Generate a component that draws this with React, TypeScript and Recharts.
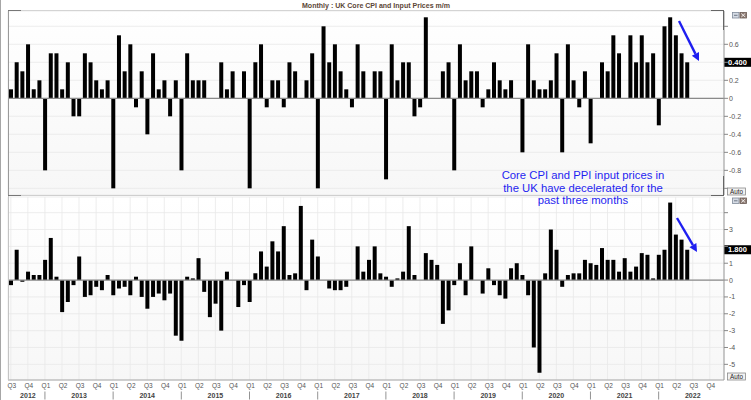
import React from 'react';
import { BarChart, Bar, XAxis, YAxis, CartesianGrid, ReferenceLine } from 'recharts';

// Monthly axis runs Jul 2012 .. Dec 2022 (data ends Jun 2022)
const startYear = 2012;
const startMonth = 6; // July, 0-based
const monthCount = 126;

// UK core CPI m/m (%)
const coreCpi = [
  0.1, 0.4, 0.3, 0.6, 0.1, 0.2,
  -0.8, 0.5, 0.5, 0.1, 0.4, -0.2, -0.2, 0.5, 0.4, 0.2, 0.1, 0.2,
  -1.0, 0.7, 0.3, 0.6, -0.1, 0.3, -0.4, 0.5, 0.1, 0.2, -0.2, 0.2,
  -0.8, 0.5, 0.2, 0.2, 0.2, 0, 0, 0.4, 0.1, 0.3, 0, 0.3,
  -1.0, 0.4, 0.6, -0.1, 0.2, 0.2, -0.1, 0.4, 0.3, 0, 0.2, 0.5,
  -1.0, 0.8, 0.4, 0.6, 0.3, 0.1, -0.1, 0.6, 0.3, 0, 0.3, 0.3,
  -0.9, 0.6, 0.2, 0.4, 0.4, -0.2, -0.1, 0.9, 0, 0, 0.3, 0.4,
  -0.8, 0.6, 0.2, 0.3, 0.3, -0.1, 0.1, 0.4, 0.2, 0.1, 0.2, 0,
  -0.6, 0.6, 0.2, 0.1, 0.1, 0.2, 0.5, -0.6, 0.6, 0.2, -0.1, 0.3,
  -0.5, 0, 0.4, 0.3, 0.7, 0.5, 0, 0.7, 0.4, 0.7, 0.4, 0.5,
  -0.3, 0.8, 0.9, 0.7, 0.5, 0.4,
];

// UK PPI input prices m/m (%)
const inputPpi = [
  -0.3, 1.8, -0.1, 0.5, 0.3, 0.3,
  1.2, 2.5, 0.2, -1.9, -1.3, -0.3, 1.4, -1.0, -0.9, -0.4, -0.6, 0.3,
  -0.9, -0.5, -0.4, -0.9, 0.2, -1.0, -1.7, -1.0, -0.8, -1.2, -0.8, -3.3,
  -3.6, 0.2, 0.1, 1.3, -0.7, -2.2, -1.4, -3.0, 0.5, 0, -1.6, -0.3,
  -1.3, 0.4, 1.7, 0.8, 2.3, 1.7, 3.2, 0.3, 0.4, 4.4, -0.6, 2.4,
  1.4, 0, -0.5, -0.6, -0.6, -0.4, 0, 2.0, 0.5, 1.2, 2.0, 0.4,
  0.2, -0.4, 0.1, 0.5, 3.2, 0.3, 0, 1.6, 1.2, 0.9, -2.6, -1.8,
  -0.3, 1.0, -0.9, 2.0, 0, -0.8, 0.7, -0.3, -0.9, -1.1, 0.7, 1.0,
  0.3, -0.9, -4.0, -5.5, 0.4, 3.0, 1.8, -0.4, 0.3, 0.4, 0.4, 1.2,
  1.0, 0.9, 1.9, 1.2, 1.2, 0.5, 1.3, 0.5, 0.8, 1.6, 1.5, 0.1,
  1.5, 1.8, 4.6, 2.7, 2.4, 1.8,
];

const quarterNames = ['Q1', 'Q2', 'Q3', 'Q4'];
const yearNames = ['2012', '2013', '2014', '2015', '2016', '2017', '2018', '2019', '2020', '2021', '2022'];
const cpiTicks = [-1, -0.8, -0.6, -0.4, -0.2, 0, 0.2, 0.4, 0.6, 0.8];
const cpiHiddenLabels = [-1, 0.8, 0.4]; // 0.4 sits under the last-value tag
const ppiTicks = [-5, -4, -3, -2, -1, 0, 1, 2, 3, 4];
const ppiHiddenLabels = [4, 2]; // 2 sits under the last-value tag

const noteLines = [
  'Core CPI and PPI input prices in',
  'the UK have decelerated for the',
  'past three months',
];

const rows = Array.from({ length: monthCount }, (_, i) => ({
  x: i + 0.5,
  cpi: i < coreCpi.length ? coreCpi[i] : null,
  ppi: i < inputPpi.length ? inputPpi[i] : null,
}));

// quarter ticks sit on the first month of each quarter
const quarterTicks = rows.filter((_, i) => (startMonth + i) % 3 === 0).map((r) => r.x);

// year label goes on the quarter tick nearest the middle of the visible part of the year
const yearTickIndex: Record<number, string> = {};
yearNames.forEach((name, k) => {
  const s = Math.max(0, k * 12 - startMonth);
  const e = Math.min(monthCount, (k + 1) * 12 - startMonth);
  const mid = Math.round((s + e) / 2 / 3) * 3;
  yearTickIndex[mid] = name;
});

const W = 751;
const AXIS_W = 27;
const FONT = '"Liberation Sans", Arial, sans-serif';

const QuarterTick = (props: any) => {
  const { x, y, payload } = props;
  const i = Math.round(payload.value - 0.5);
  if (i >= monthCount) return <g />;
  const m = (startMonth + i) % 12;
  const yr = yearTickIndex[i];
  return (
    <g>
      <text x={x + 1} y={y + 8} textAnchor="middle" fontSize={6.5} fill="#555" fontFamily={FONT}>
        {quarterNames[m / 3]}
      </text>
      {m === 0 && <line x1={x} x2={x} y1={y + 11.5} y2={y + 19.5} stroke="#777" strokeWidth={0.8} />}
      {yr && (
        <text x={x} y={y + 18} textAnchor="middle" fontSize={7} fontWeight="bold" fill="#444" fontFamily={FONT}>
          {yr}
        </text>
      )}
    </g>
  );
};

const makeYTick = (hidden: number[], fmt: (v: number) => string) => (props: any) => {
  const { x, y, payload } = props;
  if (hidden.includes(payload.value)) return <g />;
  return (
    <text x={x} y={y + 2.5} fontSize={7} fill="#555" textAnchor="start" fontFamily={FONT}>
      {fmt(payload.value)}
    </text>
  );
};

const ValueTag = (props: any) => {
  const { viewBox, text } = props;
  if (!viewBox) return null;
  const x = viewBox.x + viewBox.width;
  const y = viewBox.y;
  return (
    <g>
      <rect x={x} y={y - 4.5} width={AXIS_W} height={9} fill="#000" />
      <text x={x + 13.5} y={y + 2.6} textAnchor="middle" fill="#fff" fontSize={7.5} fontWeight="bold" fontFamily={FONT}>
        {text}
      </text>
    </g>
  );
};

const Arrow = ({ x1, y1, x2, y2 }: { x1: number; y1: number; y2: number; x2: number }) => {
  const a = Math.atan2(y2 - y1, x2 - x1);
  const L = 8;
  const H = 4;
  const bx = x2 - L * Math.cos(a);
  const by = y2 - L * Math.sin(a);
  const px = -Math.sin(a) * H;
  const py = Math.cos(a) * H;
  return (
    <g>
      <line x1={x1} y1={y1} x2={bx} y2={by} stroke="#1f1ff0" strokeWidth={2.4} />
      <polygon points={`${x2},${y2} ${bx + px},${by + py} ${bx - px},${by - py}`} fill="#1f1ff0" />
    </g>
  );
};

const PanelIcons = ({ y }: { y: number }) => (
  <g>
    <rect x={732.5} y={y} width={6.5} height={5.5} fill="#d5dbe4" stroke="#7f8a9a" strokeWidth={0.8} />
    <line x1={734} x2={737.5} y1={y + 2.8} y2={y + 2.8} stroke="#56606e" strokeWidth={0.8} />
    <rect x={740} y={y} width={6.5} height={5.5} fill="#8e7c74" stroke="#6a5a54" strokeWidth={0.8} />
    <line x1={741.3} x2={745.2} y1={y + 1} y2={y + 4.5} stroke="#fff" strokeWidth={0.8} />
    <line x1={741.3} x2={745.2} y1={y + 4.5} y2={y + 1} stroke="#fff" strokeWidth={0.8} />
  </g>
);

const AutoBox = ({ y }: { y: number }) => (
  <g>
    <rect x={727.5} y={y} width={18} height={7} fill="#f2f2f2" stroke="#8a8a8a" strokeWidth={0.8} />
    <text x={736.5} y={y + 5.6} textAnchor="middle" fontSize={6.3} fill="#222" fontFamily={FONT}>
      Auto
    </text>
  </g>
);

const App = () => {
  const cpiLast = coreCpi[coreCpi.length - 1];
  const ppiLast = inputPpi[inputPpi.length - 1];

  return (
    <div style={{ position: 'absolute', left: 0, top: 0, width: W, height: 400, background: '#fff', overflow: 'hidden', fontFamily: FONT }}>
      {/* plot backgrounds */}
      <div style={{ position: 'absolute', left: 8, top: 11, width: 716, height: 184, background: 'linear-gradient(#ffffff, #f7f7f7)' }} />
      <div style={{ position: 'absolute', left: 8, top: 197, width: 716, height: 183, background: 'linear-gradient(#ffffff, #f7f7f7)' }} />

      <div style={{ position: 'absolute', left: 0, top: 0 }}>
        <BarChart width={W} height={196} data={rows} margin={{ top: 11, right: 0, bottom: 1, left: 8 }}>
          <CartesianGrid stroke="#e9e9e9" strokeWidth={0.8} />
          <XAxis
            type="number"
            dataKey="x"
            domain={[0, monthCount]}
            ticks={quarterTicks}
            interval={0}
            allowDataOverflow
            height={0}
            tick={false}
            axisLine={false}
            tickLine={false}
          />
          <YAxis
            orientation="right"
            width={AXIS_W}
            type="number"
            domain={[-1.074, 0.97]}
            ticks={cpiTicks}
            interval={0}
            allowDataOverflow
            axisLine={{ stroke: '#9a9a9a' }}
            tickLine={{ stroke: '#888' }}
            tickSize={4}
            tickMargin={1}
            tick={makeYTick(cpiHiddenLabels, (v) => (v === 0 ? '0' : v.toFixed(1)))}
          />
          <ReferenceLine y={0} stroke="#8a8a8a" strokeWidth={1.2} />
          <Bar dataKey="cpi" fill="#000" barSize={4} isAnimationActive={false} />
          <ReferenceLine y={cpiLast} stroke="none" label={<ValueTag text={cpiLast.toFixed(3)} />} />
        </BarChart>
      </div>

      <div style={{ position: 'absolute', left: 0, top: 196 }}>
        <BarChart width={W} height={204} data={rows} margin={{ top: 1, right: 0, bottom: 0, left: 8 }}>
          <CartesianGrid stroke="#e9e9e9" strokeWidth={0.8} />
          <XAxis
            type="number"
            dataKey="x"
            domain={[0, monthCount]}
            ticks={quarterTicks}
            interval={0}
            allowDataOverflow
            height={20}
            tickSize={0}
            tickMargin={0}
            tickLine={false}
            axisLine={{ stroke: '#a8a8a8' }}
            tick={(p: any) => <QuarterTick {...p} />}
          />
          <YAxis
            orientation="right"
            width={AXIS_W}
            type="number"
            domain={[-5.93, 4.93]}
            ticks={ppiTicks}
            interval={0}
            allowDataOverflow
            axisLine={{ stroke: '#9a9a9a' }}
            tickLine={{ stroke: '#888' }}
            tickSize={4}
            tickMargin={1}
            tick={makeYTick(ppiHiddenLabels, (v) => String(v))}
          />
          <ReferenceLine y={0} stroke="#8a8a8a" strokeWidth={1.2} />
          <Bar dataKey="ppi" fill="#000" barSize={4} isAnimationActive={false} />
          <ReferenceLine y={ppiLast} stroke="none" label={<ValueTag text={ppiLast.toFixed(3)} />} />
        </BarChart>
      </div>

      {/* frame, title, annotations */}
      <svg width={W} height={400} style={{ position: 'absolute', left: 0, top: 0, pointerEvents: 'none' }}>
        <line x1={0.5} x2={0.5} y1={0} y2={400} stroke="#a6a6a6" />
        <text x={376} y={7.5} textAnchor="middle" fontSize={7.5} fontWeight="bold" fill="#5b4636" fontFamily={FONT} textLength={148} lengthAdjust="spacingAndGlyphs">
          Monthly : UK Core CPI and Input Prices m/m
        </text>

        {/* top panel outline */}
        <line x1={8} x2={724} y1={10.5} y2={10.5} stroke="#d4d4d4" />
        <line x1={8} x2={724} y1={195.5} y2={195.5} stroke="#cfcfcf" />
        <line x1={8.5} x2={8.5} y1={10.5} y2={195.5} stroke="#9a9a9a" />
        <line x1={8} x2={21} y1={10.5} y2={10.5} stroke="#777" />
        <line x1={8} x2={21} y1={195.5} y2={195.5} stroke="#777" />
        <line x1={711} x2={724} y1={10.5} y2={10.5} stroke="#666" />
        <line x1={711} x2={724} y1={195.5} y2={195.5} stroke="#666" />
        <line x1={723.5} x2={723.5} y1={10.5} y2={30} stroke="#666" />
        <line x1={723.5} x2={723.5} y1={176} y2={195.5} stroke="#666" />

        {/* bottom panel outline */}
        <line x1={8.5} x2={8.5} y1={196} y2={380} stroke="#c4c4c4" />

        <PanelIcons y={12.5} />
        <PanelIcons y={198} />
        <AutoBox y={188} />
        <AutoBox y={373} />

        {noteLines.map((t, i) => (
          <text key={t} x={583} y={179 + i * 12.5} textAnchor="middle" fontSize={11.3} fill="#1f1ff0" fontFamily={FONT}>
            {t}
          </text>
        ))}
        <Arrow x1={679} y1={21} x2={699} y2={61} />
        <Arrow x1={677} y1={218} x2={697} y2={252} />
      </svg>
    </div>
  );
};

export default App;
